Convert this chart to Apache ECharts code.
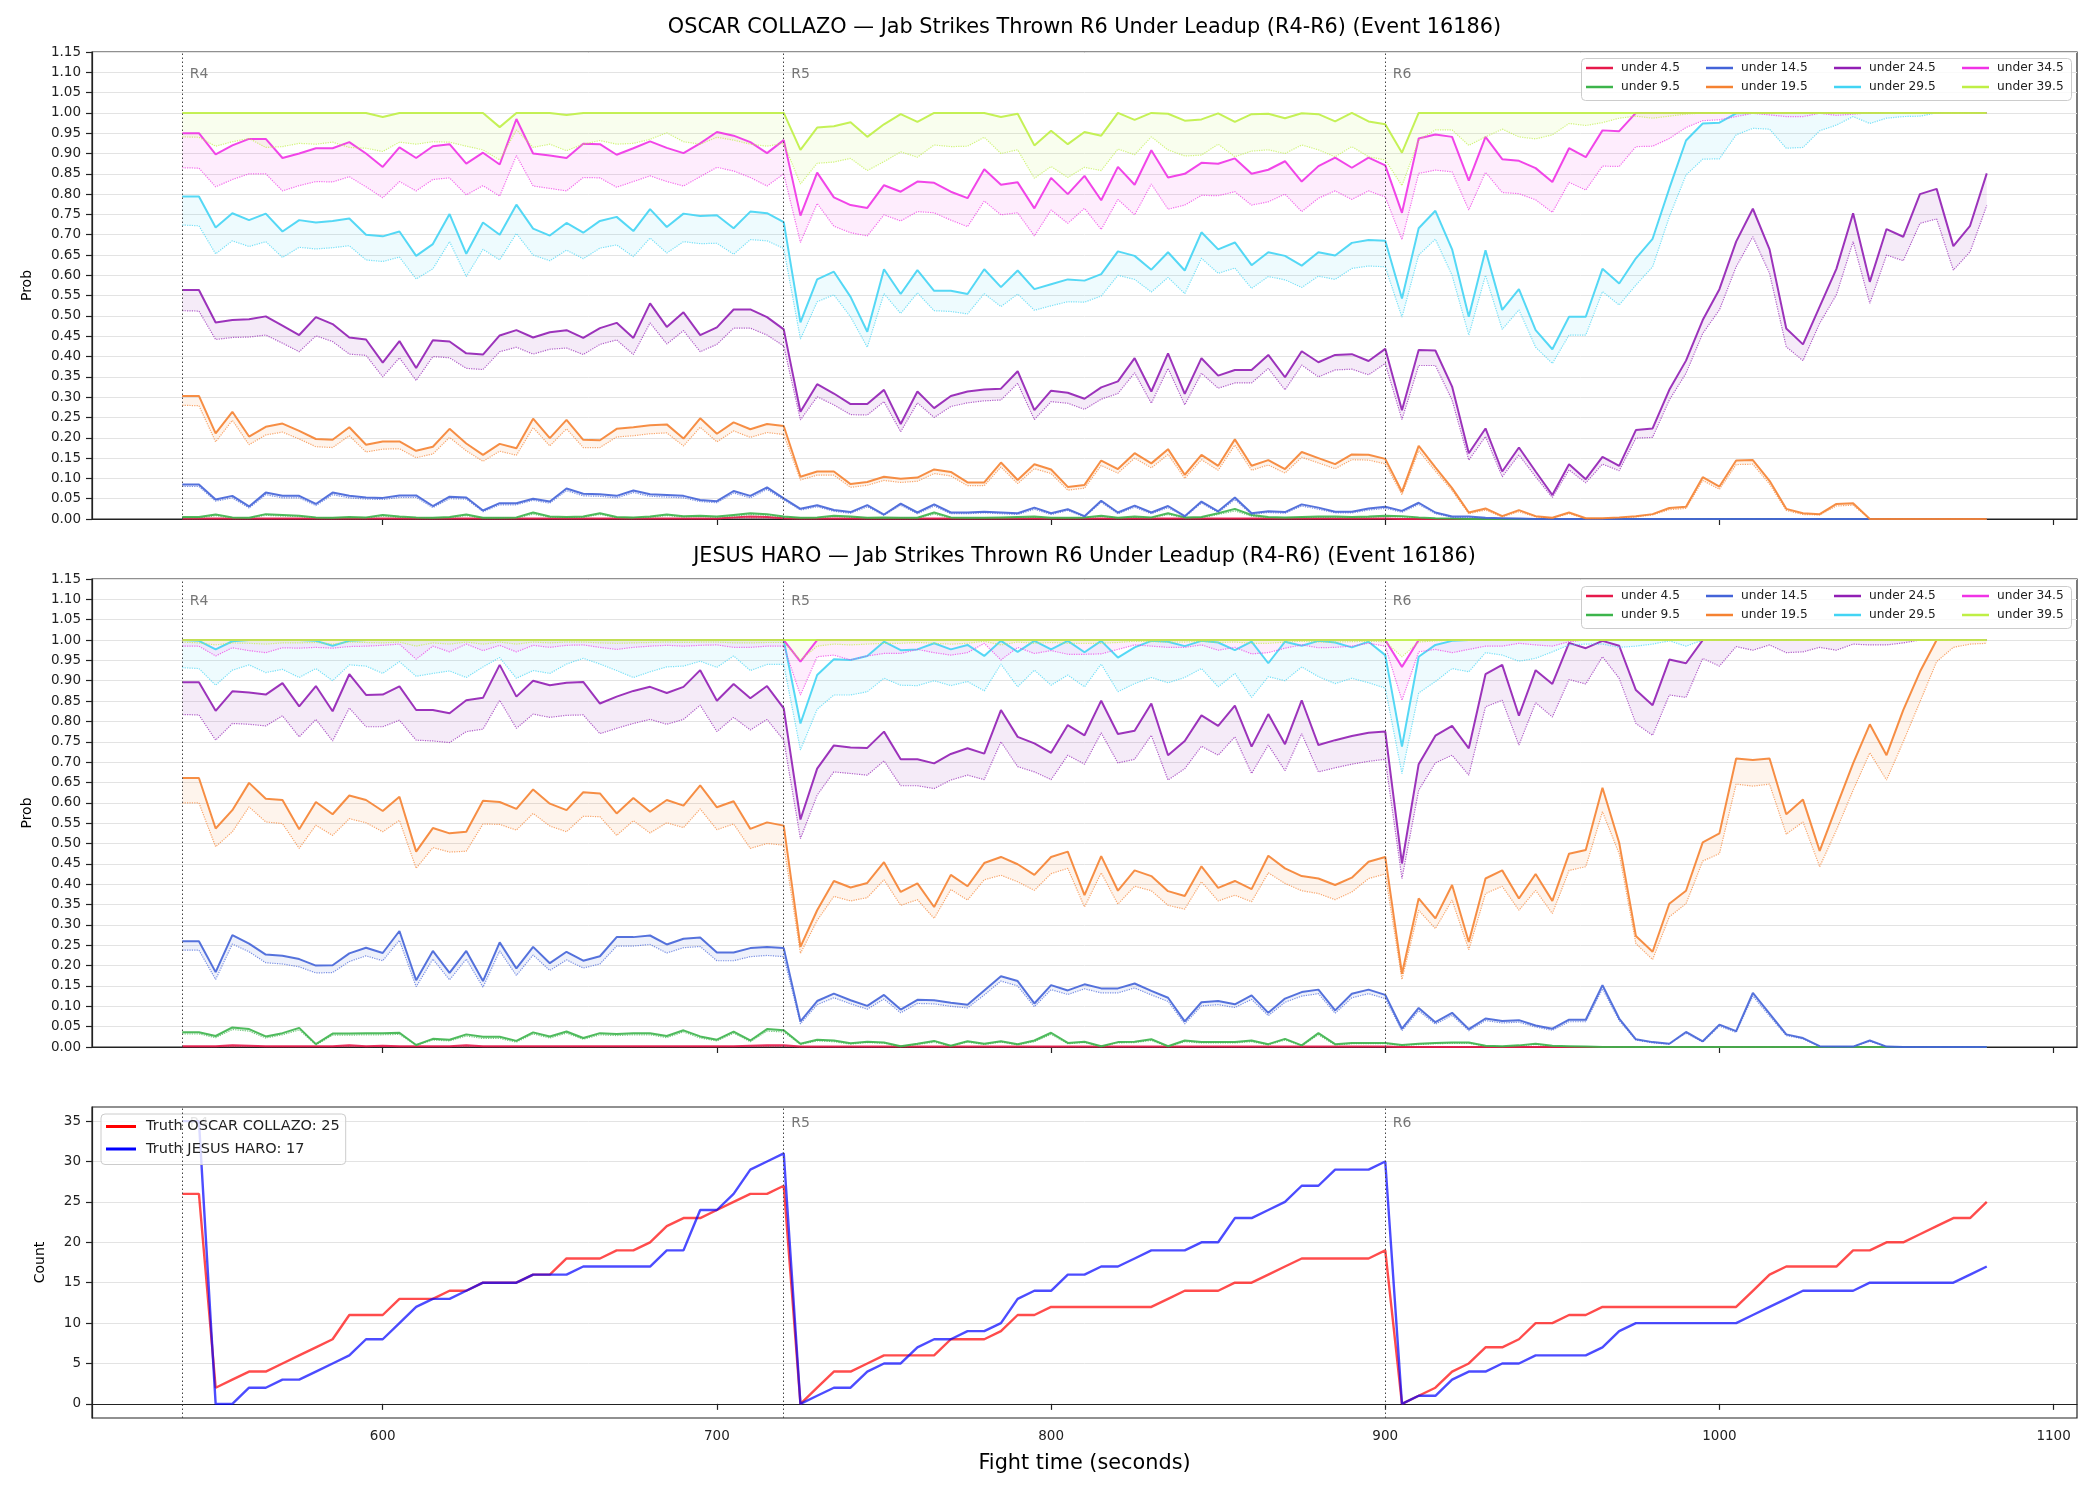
<!DOCTYPE html>
<html>
<head>
<meta charset="utf-8">
<script src="https://cdn.jsdelivr.net/npm/echarts@6/dist/echarts.min.js"></script>
<style>
html, body { margin: 0; padding: 0; background: #fff; }
#main { width: 2100px; height: 1500px; }
</style>
</head>
<body>
<div id="main"></div>
<script>
// sample times (seconds)
var times = [
  540,545,550,555,560,565,570,575,580,585,590,595,600,605,610,615,620,625,630,635,640,645,650,655,660,665,670,675,680,685,690,695,700,705,710,715,720,
  725,730,735,740,745,750,755,760,765,770,775,780,785,790,795,800,805,810,815,820,825,830,835,840,845,850,855,860,865,870,875,880,885,890,895,900,
  905,910,915,920,925,930,935,940,945,950,955,960,965,970,975,980,985,990,995,1000,1005,1010,1015,1020,1025,1030,1035,1040,1045,1050,1055,1060,1065,1070,1075,1080
];
var lineNames = ['under 4.5', 'under 9.5', 'under 14.5', 'under 19.5', 'under 24.5', 'under 29.5', 'under 34.5', 'under 39.5'];
var lineColors = ['#e6194b', '#3cb44b', '#4363d8', '#f58231', '#911eb4', '#42d4f4', '#f032e6', '#bfef45'];
var rounds = [540, 720, 900];
var roundNames = ['R4', 'R5', 'R6'];
var timeTicks = [600, 700, 800, 900, 1000, 1100];
var countTicks = [0, 5, 10, 15, 20, 25, 30, 35];

// ---- OSCAR COLLAZO: solid line and dotted line for each threshold ----
var oscar_u4 = [
  0.001,0.001,0.001,0.001,0.001,0.001,0.001,0.001,0.001,0.001,0.001,0.001,0.001,0.001,0.001,0.001,0.001,0.001,0.001,0.001,0.001,0.001,0.001,0.001,0.001,0.001,0.001,0.001,0.001,0.001,0.001,0.001,0.001,0.004,0.006,0.005,0.002,
  0.001,0.001,0.001,0.001,0.001,0.001,0.001,0.001,0.001,0.001,0.001,0.001,0.001,0.001,0.001,0.001,0.001,0.001,0.001,0.001,0.001,0.001,0.001,0.001,0.001,0.001,0.001,0.001,0.001,0.001,0.001,0.001,0.001,0.001,0.001,0.001,
  0,0,0,0,0,0,0,0,0,0,0,0,0,0,0,0,0,0,0,0,0,0,0,0,0,0,0,0,0,0,0,0,0,0,0,0
];
var oscar_u4_lo = [
  0,0,0,0,0,0,0,0,0,0,0,0,0,0,0,0,0,0,0,0,0,0,0,0,0,0,0,0,0,0,0,0,0,0.002,0.003,0.003,0.001,
  0,0,0,0,0,0,0,0,0,0,0,0,0,0,0,0,0,0,0,0,0,0,0,0,0,0,0,0,0,0,0,0,0,0,0,0,
  0,0,0,0,0,0,0,0,0,0,0,0,0,0,0,0,0,0,0,0,0,0,0,0,0,0,0,0,0,0,0,0,0,0,0,0
];
var oscar_u9 = [
  0.005,0.005,0.011,0.004,0.003,0.012,0.01,0.008,0.004,0.003,0.005,0.004,0.01,0.006,0.004,0.003,0.005,0.011,0.003,0.003,0.004,0.016,0.006,0.005,0.006,0.014,0.005,0.004,0.006,0.011,0.007,0.008,0.006,0.01,0.014,0.012,0.006,
  0.003,0.004,0.008,0.006,0.003,0.004,0.003,0.003,0.016,0.004,0.003,0.003,0.004,0.005,0.006,0.003,0.003,0.004,0.008,0.003,0.006,0.004,0.014,0.004,0.005,0.014,0.025,0.01,0.005,0.004,0.005,0.006,0.006,0.005,0.006,0.008,0.007,0.004,
  0.002,0.001,0,0,0,0,0,0,0,0,0,0,0,0,0,0,0,0,0,0,0,0,0,0,0,0,0,0,0,0,0,0,0,0
];
var oscar_u9_lo = [
  0.003,0.003,0.008,0.002,0.002,0.009,0.007,0.006,0.002,0.002,0.003,0.002,0.007,0.004,0.002,0.002,0.003,0.008,0.002,0.002,0.002,0.012,0.004,0.003,0.004,0.011,0.003,0.002,0.004,0.008,0.005,0.006,0.004,0.007,0.011,0.009,0.004,
  0.002,0.002,0.006,0.004,0.002,0.002,0.002,0.002,0.012,0.002,0.002,0.002,0.002,0.003,0.004,0.002,0.002,0.002,0.006,0.002,0.004,0.002,0.011,0.002,0.003,0.011,0.02,0.007,0.003,0.002,0.003,0.004,0.004,0.003,0.004,0.006,0.005,0.002,
  0.001,0.001,0,0,0,0,0,0,0,0,0,0,0,0,0,0,0,0,0,0,0,0,0,0,0,0,0,0,0,0,0,0,0,0
];
var oscar_u14 = [
  0.085,0.085,0.048,0.057,0.031,0.065,0.057,0.057,0.037,0.065,0.057,0.053,0.052,0.058,0.058,0.032,0.055,0.053,0.021,0.039,0.039,0.05,0.043,0.075,0.062,0.061,0.057,0.07,0.061,0.059,0.057,0.047,0.044,0.069,0.057,0.078,0.051,
  0.025,0.034,0.022,0.017,0.034,0.011,0.038,0.016,0.036,0.016,0.016,0.018,0.016,0.014,0.028,0.014,0.024,0.007,0.045,0.016,0.033,0.016,0.032,0.007,0.043,0.019,0.053,0.014,0.019,0.017,0.036,0.028,0.018,0.018,0.026,0.03,0.02,0.04,
  0.016,0.006,0.006,0.003,0.002,0.001,0,0,0,0,0,0,0,0,0,0,0,0,0,0,0,0,0,0,0,0,0,0,0,0,0,0,0,0
];
var oscar_u14_lo = [
  0.08,0.08,0.044,0.052,0.027,0.06,0.052,0.052,0.033,0.06,0.052,0.049,0.048,0.053,0.053,0.028,0.05,0.049,0.018,0.035,0.035,0.046,0.039,0.07,0.057,0.056,0.052,0.065,0.056,0.054,0.052,0.043,0.04,0.064,0.052,0.073,0.047,
  0.022,0.03,0.019,0.014,0.03,0.009,0.034,0.013,0.032,0.013,0.013,0.015,0.013,0.011,0.024,0.011,0.021,0.005,0.041,0.013,0.029,0.013,0.028,0.005,0.039,0.016,0.048,0.011,0.016,0.014,0.032,0.024,0.015,0.015,0.022,0.026,0.017,0.036,
  0.013,0.004,0.004,0.002,0.001,0,0,0,0,0,0,0,0,0,0,0,0,0,0,0,0,0,0,0,0,0,0,0,0,0,0,0,0,0
];
var oscar_u19 = [
  0.303,0.303,0.211,0.264,0.203,0.227,0.235,0.217,0.197,0.195,0.226,0.183,0.191,0.191,0.168,0.178,0.222,0.186,0.158,0.185,0.174,0.247,0.199,0.244,0.195,0.194,0.222,0.226,0.231,0.233,0.198,0.248,0.21,0.238,0.221,0.234,0.229,
  0.104,0.117,0.117,0.086,0.091,0.104,0.099,0.102,0.122,0.116,0.09,0.09,0.139,0.096,0.135,0.122,0.079,0.084,0.144,0.123,0.162,0.137,0.172,0.109,0.158,0.131,0.196,0.131,0.145,0.123,0.165,0.15,0.135,0.159,0.158,0.148,0.067,0.18,
  0.127,0.076,0.016,0.026,0.007,0.022,0.007,0.003,0.016,0.002,0.002,0.004,0.007,0.012,0.027,0.03,0.103,0.08,0.144,0.145,0.094,0.025,0.014,0.012,0.037,0.039,0,0,0,0,0,0,0,0
];
var oscar_u19_lo = [
  0.28,0.279,0.19,0.243,0.183,0.207,0.214,0.197,0.178,0.176,0.205,0.165,0.172,0.173,0.151,0.16,0.201,0.168,0.142,0.167,0.157,0.225,0.18,0.222,0.176,0.176,0.202,0.205,0.21,0.212,0.18,0.226,0.19,0.217,0.201,0.213,0.208,
  0.096,0.108,0.108,0.078,0.083,0.095,0.09,0.093,0.112,0.106,0.082,0.082,0.128,0.087,0.124,0.112,0.071,0.076,0.132,0.113,0.15,0.126,0.159,0.1,0.146,0.12,0.182,0.12,0.133,0.113,0.152,0.138,0.124,0.146,0.145,0.136,0.06,0.168,
  0.118,0.07,0.013,0.022,0.005,0.018,0.005,0.002,0.013,0.001,0.001,0.003,0.005,0.01,0.023,0.026,0.095,0.073,0.134,0.135,0.086,0.021,0.011,0.01,0.032,0.034,0,0,0,0,0,0,0,0
];
var oscar_u24 = [
  0.564,0.564,0.484,0.49,0.492,0.499,0.476,0.453,0.497,0.48,0.447,0.442,0.385,0.438,0.372,0.44,0.437,0.408,0.405,0.452,0.465,0.447,0.46,0.465,0.446,0.47,0.483,0.446,0.531,0.473,0.509,0.453,0.472,0.516,0.516,0.497,0.467,
  0.264,0.332,0.309,0.283,0.283,0.318,0.234,0.314,0.273,0.303,0.314,0.319,0.321,0.364,0.268,0.316,0.311,0.296,0.324,0.339,0.396,0.314,0.408,0.308,0.396,0.353,0.367,0.367,0.404,0.349,0.413,0.386,0.404,0.406,0.389,0.419,0.268,0.416,
  0.415,0.326,0.162,0.223,0.117,0.176,0.117,0.059,0.135,0.098,0.153,0.131,0.219,0.223,0.318,0.39,0.49,0.566,0.683,0.764,0.664,0.469,0.43,0.523,0.616,0.753,0.584,0.714,0.695,0.80,0.813,0.672,0.722,0.851
];
var oscar_u24_lo = [
  0.513,0.512,0.442,0.447,0.448,0.453,0.433,0.412,0.451,0.437,0.406,0.403,0.35,0.397,0.341,0.40,0.397,0.371,0.368,0.412,0.423,0.406,0.418,0.421,0.405,0.43,0.441,0.405,0.483,0.431,0.464,0.412,0.43,0.47,0.47,0.453,0.426,
  0.244,0.301,0.281,0.257,0.256,0.289,0.215,0.286,0.25,0.277,0.286,0.291,0.293,0.334,0.245,0.289,0.285,0.27,0.295,0.309,0.36,0.285,0.371,0.281,0.359,0.322,0.335,0.335,0.371,0.318,0.379,0.35,0.367,0.369,0.355,0.383,0.245,
  0.378,0.378,0.293,0.145,0.203,0.104,0.158,0.104,0.053,0.121,0.089,0.135,0.119,0.199,0.201,0.293,0.359,0.457,0.515,0.621,0.695,0.605,0.424,0.39,0.482,0.552,0.683,0.531,0.65,0.636,0.728,0.739,0.613,0.658,0.772
];
var oscar_u29 = [
  0.794,0.794,0.718,0.753,0.736,0.752,0.708,0.736,0.73,0.734,0.74,0.70,0.696,0.708,0.648,0.677,0.751,0.653,0.73,0.70,0.774,0.715,0.698,0.729,0.705,0.734,0.744,0.709,0.763,0.719,0.752,0.746,0.748,0.716,0.757,0.753,0.731,
  0.484,0.59,0.609,0.547,0.461,0.615,0.554,0.613,0.562,0.562,0.554,0.615,0.571,0.612,0.566,0.578,0.59,0.587,0.603,0.659,0.648,0.614,0.657,0.612,0.706,0.664,0.681,0.625,0.657,0.648,0.624,0.657,0.649,0.68,0.687,0.685,0.543,0.716,
  0.759,0.664,0.498,0.662,0.515,0.566,0.465,0.418,0.498,0.498,0.616,0.58,0.642,0.69,0.814,0.932,0.974,0.976,0.999,1,1,1,1,1,1,1,1,1,1,1,1,1,1,1
];
var oscar_u29_lo = [
  0.724,0.722,0.653,0.685,0.671,0.683,0.644,0.669,0.665,0.668,0.673,0.638,0.634,0.645,0.591,0.616,0.683,0.597,0.664,0.638,0.703,0.65,0.636,0.662,0.641,0.667,0.675,0.646,0.692,0.655,0.683,0.678,0.679,0.652,0.688,0.685,0.666,
  0.443,0.535,0.552,0.498,0.423,0.555,0.506,0.557,0.513,0.511,0.505,0.555,0.523,0.554,0.514,0.525,0.535,0.534,0.549,0.60,0.59,0.559,0.595,0.555,0.642,0.605,0.618,0.568,0.597,0.589,0.57,0.598,0.59,0.617,0.623,0.621,0.497,
  0.65,0.689,0.60,0.453,0.60,0.467,0.515,0.423,0.383,0.453,0.453,0.56,0.527,0.576,0.621,0.744,0.847,0.886,0.887,0.946,0.962,0.96,0.913,0.915,0.956,0.97,0.991,0.974,0.987,0.991,0.992,1,1,1,1
];
var oscar_u34 = [
  0.95,0.95,0.898,0.92,0.936,0.936,0.889,0.90,0.913,0.913,0.928,0.90,0.867,0.915,0.889,0.918,0.923,0.875,0.902,0.873,0.985,0.90,0.895,0.889,0.924,0.923,0.897,0.913,0.93,0.914,0.901,0.925,0.953,0.944,0.928,0.901,0.933,
  0.747,0.853,0.792,0.773,0.766,0.822,0.806,0.831,0.828,0.806,0.79,0.861,0.823,0.829,0.765,0.84,0.80,0.845,0.785,0.867,0.823,0.908,0.841,0.85,0.877,0.875,0.888,0.85,0.86,0.881,0.831,0.869,0.89,0.865,0.89,0.871,0.754,0.937,
  0.947,0.941,0.833,0.941,0.886,0.882,0.864,0.83,0.913,0.891,0.957,0.955,1,1,1,1,1,1,1,1,1,1,1,1,1,1,1,1,1,1,1,1,1,1
];
var oscar_u34_lo = [
  0.865,0.864,0.818,0.836,0.85,0.85,0.808,0.821,0.831,0.83,0.843,0.818,0.791,0.831,0.808,0.836,0.84,0.798,0.821,0.795,0.895,0.82,0.814,0.808,0.841,0.84,0.817,0.831,0.845,0.831,0.82,0.843,0.866,0.857,0.841,0.82,0.85,
  0.681,0.777,0.721,0.705,0.697,0.749,0.734,0.757,0.754,0.736,0.72,0.783,0.749,0.754,0.697,0.761,0.728,0.765,0.713,0.787,0.749,0.825,0.763,0.773,0.797,0.796,0.806,0.773,0.781,0.80,0.757,0.79,0.808,0.787,0.808,0.793,0.688,
  0.851,0.859,0.855,0.761,0.854,0.804,0.801,0.786,0.755,0.829,0.81,0.869,0.868,0.917,0.918,0.937,0.964,0.981,0.983,0.991,0.999,0.995,0.991,0.991,0.999,0.994,0.997,1,1,1,1,1,1,1,1
];
var oscar_u39 = [
  1,1,1,1,1,1,1,1,1,1,1,1,0.99,1,1,1,1,1,1,0.965,1,1,1,0.995,1,1,1,1,1,1,1,1,1,1,1,1,1,
  0.909,0.964,0.967,0.977,0.941,0.972,0.997,0.978,1,1,1,1,0.99,0.998,0.92,0.956,0.923,0.953,0.944,1,0.983,1,0.998,0.981,0.984,0.999,0.978,0.997,0.998,0.987,0.999,0.997,0.979,1,0.979,0.972,0.902,1,
  1,1,1,1,1,1,1,1,1,1,1,1,1,1,1,1,1,1,1,1,1,1,1,1,1,1,1,1,1,1,1,1,1,1
];
var oscar_u39_lo = [
  0.941,0.94,0.918,0.929,0.937,0.915,0.917,0.925,0.923,0.928,0.915,0.913,0.905,0.928,0.923,0.929,0.928,0.918,0.909,0.884,0.958,0.915,0.923,0.907,0.923,0.932,0.923,0.925,0.935,0.951,0.929,0.923,0.94,0.933,0.923,0.918,0.925,
  0.825,0.876,0.879,0.888,0.858,0.88,0.904,0.891,0.921,0.917,0.918,0.94,0.90,0.909,0.839,0.868,0.841,0.866,0.858,0.911,0.897,0.941,0.909,0.894,0.896,0.923,0.892,0.906,0.909,0.90,0.921,0.909,0.892,0.917,0.892,0.884,0.821,
  0.933,0.958,0.958,0.92,0.941,0.96,0.941,0.936,0.946,0.974,0.969,0.976,0.987,0.992,0.987,0.992,0.997,1,1,1,1,1,1,1,1,1,1,1,1,1,1,1,1,1,1
];

// ---- JESUS HARO ----
var haro_u4 = [
  0.002,0.002,0.002,0.004,0.003,0.002,0.002,0.002,0.002,0.002,0.004,0.002,0.003,0.002,0.002,0.002,0.002,0.004,0.002,0.002,0.002,0.002,0.002,0.002,0.002,0.002,0.002,0.002,0.002,0.002,0.002,0.002,0.002,0.002,0.003,0.004,0.004,
  0.001,0.001,0.001,0.001,0.001,0.001,0.001,0.001,0.001,0.001,0.001,0.001,0.001,0.001,0.001,0.001,0.001,0.001,0.001,0.001,0.001,0.001,0.001,0.001,0.001,0.001,0.001,0.001,0.001,0.001,0.001,0.001,0.001,0.001,0.001,0.001,
  0,0,0,0,0,0,0,0,0,0,0,0,0,0,0,0,0,0,0,0,0,0,0,0,0,0,0,0,0,0,0,0,0,0,0,0
];
var haro_u4_lo = [
  0.001,0.001,0.001,0.001,0.001,0.001,0.001,0.001,0.001,0.001,0.001,0.001,0.001,0.001,0.001,0.001,0.001,0.001,0.001,0.001,0.001,0.001,0.001,0.001,0.001,0.001,0.001,0.001,0.001,0.001,0.001,0.001,0.001,0.001,0.001,0.001,0.001,
  0,0,0,0,0,0,0,0,0,0,0,0,0,0,0,0,0,0,0,0,0,0,0,0,0,0,0,0,0,0,0,0,0,0,0,0,
  0,0,0,0,0,0,0,0,0,0,0,0,0,0,0,0,0,0,0,0,0,0,0,0,0,0,0,0,0,0,0,0,0,0,0,0
];
var haro_u9 = [
  0.036,0.036,0.027,0.048,0.044,0.026,0.034,0.047,0.007,0.033,0.033,0.034,0.034,0.035,0.005,0.02,0.018,0.031,0.025,0.025,0.015,0.036,0.026,0.038,0.022,0.034,0.032,0.034,0.034,0.027,0.041,0.026,0.018,0.038,0.016,0.044,0.041,
  0.008,0.018,0.016,0.009,0.013,0.011,0.002,0.008,0.015,0.003,0.014,0.008,0.014,0.007,0.016,0.035,0.01,0.013,0.002,0.012,0.013,0.019,0.002,0.016,0.012,0.012,0.012,0.016,0.007,0.02,0.004,0.034,0.007,0.01,0.01,0.01,0.005,0.008,
  0.01,0.011,0.011,0.003,0.002,0.004,0.008,0.003,0.002,0.001,0,0,0,0,0,0,0,0,0,0,0,0,0,0,0,0,0,0,0,0,0,0,0,0
];
var haro_u9_lo = [
  0.032,0.032,0.023,0.043,0.039,0.022,0.03,0.042,0.005,0.029,0.029,0.03,0.03,0.031,0.004,0.017,0.015,0.027,0.021,0.021,0.012,0.032,0.022,0.034,0.019,0.03,0.028,0.03,0.03,0.023,0.037,0.022,0.015,0.034,0.013,0.039,0.037,
  0.006,0.015,0.013,0.007,0.011,0.009,0.001,0.006,0.012,0.002,0.012,0.006,0.012,0.005,0.013,0.031,0.008,0.011,0.001,0.01,0.011,0.016,0.001,0.013,0.01,0.01,0.01,0.013,0.005,0.017,0.003,0.03,0.005,0.008,0.008,0.008,0.004,0.006,
  0.008,0.009,0.009,0.002,0.001,0.003,0.006,0.002,0.001,0.001,0,0,0,0,0,0,0,0,0,0,0,0,0,0,0,0,0,0,0,0,0,0,0,0
];
var haro_u14 = [
  0.26,0.26,0.184,0.275,0.254,0.227,0.224,0.216,0.20,0.201,0.23,0.244,0.231,0.285,0.164,0.236,0.182,0.236,0.162,0.257,0.193,0.246,0.206,0.234,0.212,0.223,0.27,0.27,0.274,0.252,0.266,0.269,0.232,0.232,0.243,0.246,0.243,
  0.063,0.113,0.131,0.115,0.101,0.128,0.092,0.116,0.115,0.109,0.104,0.139,0.174,0.162,0.107,0.152,0.139,0.154,0.144,0.144,0.156,0.138,0.121,0.063,0.11,0.113,0.105,0.127,0.084,0.119,0.135,0.141,0.09,0.131,0.141,0.128,0.045,0.096,
  0.061,0.084,0.044,0.07,0.064,0.066,0.053,0.045,0.067,0.067,0.152,0.07,0.019,0.012,0.008,0.037,0.014,0.055,0.039,0.133,0.082,0.031,0.022,0.002,0.001,0.001,0.016,0.001,0,0,0,0,0,0
];
var haro_u14_lo = [
  0.238,0.238,0.166,0.253,0.234,0.207,0.204,0.197,0.182,0.183,0.21,0.224,0.212,0.262,0.148,0.216,0.165,0.216,0.147,0.236,0.176,0.226,0.188,0.214,0.194,0.204,0.248,0.248,0.252,0.231,0.244,0.247,0.212,0.212,0.222,0.225,0.222,
  0.057,0.104,0.121,0.106,0.093,0.118,0.084,0.107,0.106,0.1,0.096,0.128,0.162,0.15,0.099,0.141,0.129,0.143,0.133,0.133,0.145,0.128,0.112,0.057,0.101,0.104,0.097,0.117,0.077,0.11,0.125,0.131,0.083,0.121,0.131,0.119,0.04,0.089,
  0.056,0.078,0.04,0.065,0.059,0.061,0.049,0.041,0.062,0.062,0.143,0.065,0.017,0.01,0.007,0.034,0.012,0.051,0.036,0.125,0.076,0.028,0.02,0.001,0.001,0.001,0.014,0.001,0,0,0,0,0,0
];
var haro_u19 = [
  0.661,0.661,0.537,0.582,0.649,0.61,0.607,0.535,0.602,0.572,0.618,0.607,0.58,0.615,0.48,0.538,0.525,0.529,0.605,0.602,0.585,0.633,0.598,0.582,0.626,0.623,0.574,0.612,0.578,0.607,0.593,0.643,0.589,0.604,0.536,0.552,0.544,
  0.246,0.336,0.408,0.392,0.403,0.454,0.381,0.402,0.344,0.423,0.395,0.452,0.467,0.449,0.423,0.467,0.48,0.373,0.469,0.384,0.434,0.42,0.383,0.371,0.444,0.391,0.408,0.388,0.47,0.439,0.42,0.414,0.398,0.416,0.455,0.467,0.18,0.365,
  0.316,0.398,0.258,0.414,0.434,0.365,0.425,0.359,0.475,0.484,0.637,0.502,0.273,0.234,0.352,0.384,0.503,0.525,0.709,0.705,0.709,0.572,0.608,0.482,0.59,0.697,0.793,0.717,0.828,0.922,1,1,1,1
];
var haro_u19_lo = [
  0.60,0.60,0.492,0.529,0.59,0.553,0.549,0.488,0.545,0.52,0.561,0.551,0.529,0.557,0.439,0.49,0.479,0.481,0.548,0.547,0.533,0.574,0.543,0.529,0.567,0.566,0.52,0.556,0.526,0.551,0.539,0.585,0.534,0.548,0.488,0.50,0.496,
  0.23,0.311,0.37,0.359,0.367,0.411,0.348,0.362,0.316,0.387,0.361,0.411,0.422,0.406,0.385,0.426,0.439,0.344,0.428,0.351,0.395,0.384,0.348,0.339,0.406,0.359,0.373,0.357,0.428,0.402,0.384,0.377,0.362,0.381,0.414,0.425,0.166,
  0.336,0.291,0.361,0.239,0.377,0.395,0.336,0.385,0.328,0.434,0.443,0.578,0.475,0.254,0.215,0.32,0.352,0.457,0.475,0.646,0.641,0.646,0.523,0.553,0.443,0.533,0.631,0.723,0.656,0.75,0.848,0.947,0.982,0.99,0.992
];
var haro_u24 = [
  0.896,0.896,0.826,0.874,0.871,0.866,0.894,0.837,0.887,0.825,0.916,0.865,0.866,0.886,0.828,0.828,0.82,0.852,0.858,0.939,0.861,0.90,0.889,0.895,0.897,0.844,0.861,0.875,0.885,0.87,0.885,0.926,0.851,0.892,0.857,0.887,0.832,
  0.559,0.684,0.741,0.736,0.735,0.775,0.707,0.707,0.697,0.72,0.734,0.721,0.828,0.762,0.746,0.723,0.791,0.766,0.851,0.769,0.777,0.844,0.717,0.752,0.815,0.789,0.839,0.738,0.818,0.744,0.852,0.742,0.754,0.764,0.772,0.775,0.451,0.695,
  0.765,0.789,0.734,0.916,0.939,0.814,0.926,0.892,0.993,0.98,0.998,0.986,0.877,0.84,0.952,0.943,1,1,1,1,1,1,1,1,1,1,1,1,1,1,1,1,1,1
];
var haro_u24_lo = [
  0.817,0.816,0.754,0.795,0.793,0.789,0.814,0.762,0.805,0.752,0.833,0.787,0.787,0.803,0.754,0.752,0.748,0.775,0.781,0.852,0.783,0.818,0.81,0.815,0.816,0.77,0.783,0.795,0.805,0.793,0.805,0.84,0.775,0.81,0.779,0.805,0.754,
  0.512,0.619,0.676,0.672,0.668,0.703,0.642,0.642,0.635,0.656,0.668,0.657,0.75,0.689,0.676,0.657,0.717,0.695,0.772,0.698,0.707,0.766,0.656,0.684,0.739,0.717,0.762,0.672,0.742,0.679,0.77,0.676,0.686,0.695,0.702,0.707,0.414,
  0.631,0.698,0.717,0.668,0.836,0.852,0.742,0.846,0.811,0.903,0.892,0.959,0.906,0.795,0.766,0.865,0.859,0.955,0.936,0.984,0.975,0.988,0.969,0.971,0.982,0.975,0.99,0.988,0.988,0.993,1,1,1,1,1
];
var haro_u29 = [
  1,0.998,0.977,0.997,1,1,1,1,0.998,0.986,0.998,1,1,1,1,1,1,1,1,1,1,1,1,1,1,1,1,1,1,1,1,1,1,1,1,1,1,
  0.795,0.914,0.953,0.951,0.961,0.996,0.975,0.977,0.992,0.977,0.988,0.961,0.998,0.971,0.998,0.977,0.998,0.97,0.998,0.957,0.982,0.998,0.996,0.985,0.998,0.994,0.975,0.996,0.943,0.996,0.986,0.998,0.994,0.982,0.996,0.963,0.738,0.959,
  0.988,0.998,1,1,1,1,1,1,1,1,1,1,1,1,1,1,1,1,1,1,1,1,1,1,1,1,1,1,1,1,1,1,1,1
];
var haro_u29_lo = [
  0.932,0.93,0.889,0.926,0.939,0.92,0.928,0.908,0.93,0.90,0.939,0.936,0.918,0.947,0.911,0.918,0.924,0.908,0.934,0.957,0.906,0.925,0.918,0.941,0.955,0.941,0.925,0.908,0.922,0.934,0.936,0.948,0.933,0.961,0.925,0.94,0.94,
  0.73,0.83,0.865,0.865,0.873,0.906,0.889,0.888,0.90,0.888,0.898,0.875,0.941,0.885,0.926,0.889,0.914,0.885,0.941,0.873,0.893,0.908,0.895,0.908,0.93,0.885,0.918,0.859,0.91,0.90,0.934,0.91,0.893,0.906,0.895,0.882,0.672,
  0.87,0.898,0.93,0.922,0.969,0.963,0.948,0.955,0.971,0.988,0.99,0.99,0.982,0.985,0.99,0.998,0.985,1,1,1,1,1,1,1,1,1,1,1,1,1,1,1,1,1,1
];
var haro_u34 = [
  1,1,1,1,1,1,1,1,1,1,1,1,1,1,1,1,1,1,1,1,1,1,1,1,1,1,1,1,1,1,1,1,1,1,1,1,1,
  0.947,1,1,1,1,1,1,1,1,1,1,1,1,1,1,1,1,1,1,1,1,1,1,1,1,1,1,1,1,1,1,1,1,1,1,1,
  0.934,1,1,1,1,1,1,1,1,1,1,1,1,1,1,1,1,1,1,1,1,1,1,1,1,1,1,1,1,1,1,1,1,1,1,1
];
var haro_u34_lo = [
  0.985,0.985,0.961,0.981,0.974,0.969,0.981,0.98,0.982,0.98,0.984,0.985,0.987,0.99,0.953,0.985,0.971,0.99,0.974,0.987,0.971,0.987,0.982,0.987,0.988,0.982,0.977,0.982,0.985,0.987,0.985,0.987,0.988,0.982,0.982,0.985,0.985,
  0.865,0.959,0.963,0.951,0.961,0.967,0.967,0.977,0.969,0.963,0.969,0.992,0.951,0.982,0.967,0.974,0.965,0.965,0.966,0.977,0.988,0.985,0.982,0.982,0.988,0.975,0.982,0.966,0.969,0.98,0.988,0.981,0.982,0.985,0.992,0.985,0.852,
  0.971,0.977,0.969,0.977,0.985,0.985,0.992,0.988,0.985,0.996,1,1,1,1,1,1,1,1,1,1,1,1,1,1,1,1,1,1,1,1,1,1,1,1,1
];
var haro_u39 = [
  1,1,1,1,1,1,1,1,1,1,1,1,1,1,1,1,1,1,1,1,1,1,1,1,1,1,1,1,1,1,1,1,1,1,1,1,1,
  1,1,1,1,1,1,1,1,1,1,1,1,1,1,1,1,1,1,1,1,1,1,1,1,1,1,1,1,1,1,1,1,1,1,1,1,
  1,1,1,1,1,1,1,1,1,1,1,1,1,1,1,1,1,1,1,1,1,1,1,1,1,1,1,1,1,1,1,1,1,1,1,1
];
var haro_u39_lo = [
  0.995,0.993,0.988,0.993,0.992,0.99,0.993,0.993,0.994,0.99,0.995,0.994,0.993,0.995,0.985,0.993,0.99,0.995,0.99,0.995,0.99,0.995,0.993,0.995,0.995,0.993,0.992,0.993,0.994,0.995,0.994,0.995,0.995,0.993,0.993,0.994,0.994,
  0.951,0.985,0.99,0.988,0.99,0.992,0.992,0.994,0.992,0.99,0.992,0.997,0.988,0.995,0.992,0.994,0.992,0.992,0.992,0.994,0.997,0.996,0.995,0.995,0.997,0.994,0.995,0.992,0.992,0.995,0.997,0.995,0.995,0.996,0.997,0.996,0.959,
  0.995,0.998,1,1,1,1,1,1,1,1,1,1,1,1,1,1,1,1,1,1,1,1,1,1,1,1,1,1,1,1,1,1,1,1,1
];

// ---- truth counts ----
var truthOscar = [
  26,26,2,3,4,4,5,6,7,8,11,11,11,13,13,13,14,14,15,15,15,16,16,18,18,18,19,19,20,22,23,23,24,25,26,26,27,
  0,2,4,4,5,6,6,6,6,8,8,8,9,11,11,12,12,12,12,12,12,12,13,14,14,14,15,15,16,17,18,18,18,18,18,19,
  0,1,2,4,5,7,7,8,10,10,11,11,12,12,12,12,12,12,12,12,12,14,16,17,17,17,17,19,19,20,20,21,22,23,23,25
];
var truthHaro = [
  35,35,0,0,2,2,3,3,4,5,6,8,8,10,12,13,13,14,15,15,15,16,16,16,17,17,17,17,17,19,19,24,24,26,29,30,31,
  0,1,2,2,4,5,5,7,8,8,9,9,10,13,14,14,16,16,17,17,18,19,19,19,20,20,23,23,24,25,27,27,29,29,29,30,
  0,1,1,3,4,4,5,5,6,6,6,6,7,9,10,10,10,10,10,10,10,11,12,13,14,14,14,14,15,15,15,15,15,15,16,17
];

var oscarHi = [oscar_u4, oscar_u9, oscar_u14, oscar_u19, oscar_u24, oscar_u29, oscar_u34, oscar_u39];
var oscarLo = [oscar_u4_lo, oscar_u9_lo, oscar_u14_lo, oscar_u19_lo, oscar_u24_lo, oscar_u29_lo, oscar_u34_lo, oscar_u39_lo];
var haroHi = [haro_u4, haro_u9, haro_u14, haro_u19, haro_u24, haro_u29, haro_u34, haro_u39];
var haroLo = [haro_u4_lo, haro_u9_lo, haro_u14_lo, haro_u19_lo, haro_u24_lo, haro_u29_lo, haro_u34_lo, haro_u39_lo];

function pairs(arr) {
    return times.map(function (t, i) { return [t, arr[i]]; });
}

// shaded band between the dotted and the solid line, drawn through the axis scales
function bandSeries(hi, lo, k, g) {
    var c = lineColors[k];
    return [{
        type: 'custom', xAxisIndex: g, yAxisIndex: g, silent: true, clip: true,
        data: [[times[0], lo[0]]],
        renderItem: function (params, api) {
            var pts = [];
            for (var i = 0; i < times.length; i++) pts.push(api.coord([times[i], hi[i]]));
            for (var j = times.length - 1; j >= 0; j--) pts.push(api.coord([times[j], lo[j]]));
            return { type: 'polygon', shape: { points: pts }, style: { fill: c, opacity: 0.09 } };
        }
    }, {
        name: lineNames[k], type: 'line', xAxisIndex: g, yAxisIndex: g,
        data: pairs(hi), symbol: 'none', silent: true, color: c,
        lineStyle: { color: c, width: 2, opacity: 0.9 }
    }, {
        name: lineNames[k] + ' lo', type: 'line', xAxisIndex: g, yAxisIndex: g,
        data: pairs(lo), symbol: 'none', silent: true, color: c,
        lineStyle: { color: c, width: 1.2, type: 'dotted', opacity: 0.7 }
    }];
}

function roundSeries(g, yy) {
    return {
        type: 'scatter', xAxisIndex: g, yAxisIndex: g, silent: true,
        data: rounds.map(function (t, i) { return { name: roundNames[i], value: [t, yy] }; }),
        symbolSize: 1,
        itemStyle: { color: 'rgba(0,0,0,0)' },
        label: { show: true, position: 'right', distance: 7, formatter: '{b}', color: '#555', fontSize: 14 },
        markLine: {
            silent: true, symbol: ['none', 'none'], animation: false,
            label: { show: false },
            lineStyle: { type: [1.5, 2.5], color: '#444', width: 1 },
            data: rounds.map(function (t) { return { xAxis: t }; })
        }
    };
}

var axisColor = '#222';
function xAxisFor(g, showLabels) {
    return {
        type: 'value', gridIndex: g, min: 513, max: 1107,
        axisLine: { show: true, lineStyle: { color: axisColor, width: 1.2 } },
        axisTick: { show: true, length: 6, customValues: timeTicks, lineStyle: { color: axisColor, width: 1.2 } },
        axisLabel: { show: showLabels, customValues: timeTicks, fontSize: 13.5, color: axisColor, margin: 11,
                     formatter: function (v) { return String(v); } },
        splitLine: { show: false },
        name: showLabels ? 'Fight time (seconds)' : '',
        nameLocation: 'middle', nameGap: 35,
        nameTextStyle: { fontSize: 20.8, color: '#000' }
    };
}
function probAxis(g) {
    return {
        type: 'value', gridIndex: g, min: 0, max: 1.15, interval: 0.05,
        axisLine: { show: true, lineStyle: { color: axisColor, width: 1.2 } },
        axisTick: { show: true, length: 6, lineStyle: { color: axisColor, width: 1.2 } },
        axisLabel: { fontSize: 13.5, color: axisColor, margin: 11, formatter: function (v) { return v.toFixed(2); } },
        splitLine: { show: true, lineStyle: { color: '#e3e3e3', width: 1 } },
        name: 'Prob', nameLocation: 'middle', nameGap: 58,
        nameTextStyle: { fontSize: 14, color: '#000' }
    };
}

var gridBase = { left: 92, right: 23, show: true, borderColor: axisColor, borderWidth: 1.2, containLabel: false, outerBoundsMode: 'none' };
function gridAt(top, height) {
    var o = {};
    for (var key in gridBase) o[key] = gridBase[key];
    o.top = top; o.height = height;
    return o;
}

var series = [];
for (var k = 0; k < 8; k++) series = series.concat(bandSeries(oscarHi[k], oscarLo[k], k, 0));
for (var k2 = 0; k2 < 8; k2++) series = series.concat(bandSeries(haroHi[k2], haroLo[k2], k2, 1));
var oscarTruthName = 'Truth OSCAR COLLAZO: ' + truthOscar[truthOscar.length - 1];
var haroTruthName = 'Truth JESUS HARO: ' + truthHaro[truthHaro.length - 1];
series.push({
    name: oscarTruthName, type: 'line', xAxisIndex: 2, yAxisIndex: 2, data: pairs(truthOscar),
    symbol: 'none', silent: true, color: '#ff0000', lineStyle: { width: 2.4, opacity: 0.7 }
});
series.push({
    name: haroTruthName, type: 'line', xAxisIndex: 2, yAxisIndex: 2, data: pairs(truthHaro),
    symbol: 'none', silent: true, color: '#0000ff', lineStyle: { width: 2.4, opacity: 0.7 }
});
series.push(roundSeries(0, 1.096));
series.push(roundSeries(1, 1.096));
series.push(roundSeries(2, 34.7));

var legendCols = [[lineNames[0], lineNames[1]], [lineNames[2], lineNames[3]], [lineNames[4], lineNames[5]], [lineNames[6], lineNames[7]]];
var legendLefts = [1586, 1706, 1834, 1962];
var legends = [];
[62, 590].forEach(function (top) {
    legendCols.forEach(function (names, c) {
        legends.push({
            orient: 'vertical', left: legendLefts[c], top: top, padding: 0,
            itemWidth: 27, itemHeight: 2.5, itemGap: 7, icon: 'rect', selectedMode: false,
            textStyle: { fontSize: 12.2, color: '#222', padding: [0, 0, 0, 3] },
            data: names
        });
    });
});
legends.push({
    orient: 'vertical', left: 101, top: 1114, padding: [5, 6, 8, 5],
    itemWidth: 30, itemHeight: 3, itemGap: 7.5, icon: 'rect', selectedMode: false,
    backgroundColor: 'rgba(255,255,255,0.8)', borderColor: '#cccccc', borderWidth: 1, borderRadius: 4,
    textStyle: { fontSize: 14.5, color: '#222', padding: [0, 0, 0, 5] },
    data: [oscarTruthName, haroTruthName]
});

var graphics = [
    { type: 'rect', left: 1581, top: 58, z: 3, silent: true, shape: { width: 490, height: 42, r: 4 },
      style: { fill: 'rgba(255,255,255,0.8)', stroke: '#cccccc', lineWidth: 1 } },
    { type: 'rect', left: 1581, top: 586, z: 3, silent: true, shape: { width: 490, height: 42, r: 4 },
      style: { fill: 'rgba(255,255,255,0.8)', stroke: '#cccccc', lineWidth: 1 } }
];

var dom = document.getElementById('main');
var myChart = echarts.init(dom);
var option = {
    animation: false,
    backgroundColor: '#ffffff',
    textStyle: { fontFamily: 'DejaVu Sans' },
    title: [
        { text: 'OSCAR COLLAZO — Jab Strikes Thrown R6 Under Leadup (R4-R6) (Event 16186)', left: 1084.5, top: 17, padding: 0,
          textAlign: 'center', textStyle: { fontSize: 20.8, fontWeight: 'normal', color: '#000' } },
        { text: 'JESUS HARO — Jab Strikes Thrown R6 Under Leadup (R4-R6) (Event 16186)', left: 1084.5, top: 546, padding: 0,
          textAlign: 'center', textStyle: { fontSize: 20.8, fontWeight: 'normal', color: '#000' } }
    ],
    grid: [gridAt(52, 467), gridAt(579, 468), gridAt(1107, 311)],
    xAxis: [xAxisFor(0, false), xAxisFor(1, false), xAxisFor(2, true)],
    yAxis: [
        probAxis(0),
        probAxis(1),
        {
            type: 'value', gridIndex: 2, min: -1.75, max: 36.75,
            axisLine: { show: true, lineStyle: { color: axisColor, width: 1.2 } },
            axisTick: { show: true, length: 6, customValues: countTicks, lineStyle: { color: axisColor, width: 1.2 } },
            axisLabel: { customValues: countTicks, fontSize: 13.5, color: axisColor, margin: 11 },
            splitLine: { show: true, lineStyle: { color: '#e3e3e3', width: 1 } },
            name: 'Count', nameLocation: 'middle', nameGap: 45,
            nameTextStyle: { fontSize: 14, color: '#000' }
        }
    ],
    legend: legends,
    graphic: graphics,
    series: series
};
if (option && typeof option === "object") {
    myChart.setOption(option, true);
}
</script>
</body>
</html>
